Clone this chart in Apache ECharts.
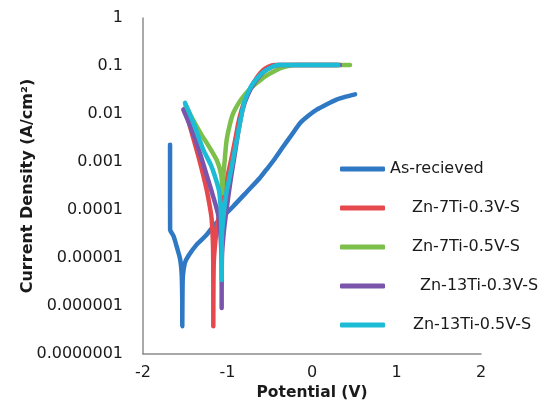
<!DOCTYPE html>
<html>
<head>
<meta charset="utf-8">
<title>Polarization curves</title>
<script src="https://cdn.jsdelivr.net/npm/echarts@6/dist/echarts.min.js"></script>
<style>
  html, body { margin: 0; padding: 0; background: #ffffff; }
  #chart { width: 548px; height: 409px; }
</style>
</head>
<body>
<div id="chart"></div>
<script>
// Potential (V) vs current density (A/cm²), one [x, y] pair per point
const asReceived = [
  [-1.680, 2.3e-3], [-1.680, 3.2e-4], [-1.679, 3.9e-5], [-1.640, 2.9e-5],
  [-1.600, 1.7e-5], [-1.560, 9.3e-6], [-1.542, 4.5e-6], [-1.536, 1.5e-6],
  [-1.535, 3.8e-7], [-1.533, 1.5e-6], [-1.528, 4.2e-6], [-1.505, 7.8e-6],
  [-1.464, 1.1e-5], [-1.365, 1.9e-5], [-1.250, 3.0e-5], [-1.168, 4.6e-5],
  [-1.050, 7.4e-5], [-0.931, 1.2e-4], [-0.770, 2.4e-4], [-0.615, 4.7e-4],
  [-0.540, 6.9e-4], [-0.440, 1.17e-3], [-0.340, 2.1e-3], [-0.240, 3.7e-3],
  [-0.140, 6.5e-3], [-0.040, 9.3e-3], [0.056, 1.23e-2], [0.170, 1.58e-2],
  [0.290, 2.0e-2], [0.400, 2.3e-2], [0.510, 2.57e-2]
];
const zn7Ti03 = [
  [-1.503, 1.32e-2], [-1.430, 4.5e-3], [-1.345, 1.32e-3], [-1.290, 5.6e-4],
  [-1.246, 2.6e-4], [-1.207, 1.12e-4], [-1.187, 6.3e-5], [-1.172, 2.0e-5],
  [-1.168, 3.2e-6], [-1.168, 3.8e-7], [-1.166, 3.2e-6], [-1.160, 1.0e-5],
  [-1.120, 5.0e-5], [-1.060, 1.6e-4], [-1.000, 5.0e-4], [-0.950, 1.26e-3],
  [-0.900, 3.5e-3], [-0.872, 6.5e-3], [-0.830, 1.26e-2], [-0.790, 2.0e-2],
  [-0.695, 4.4e-2], [-0.576, 8.3e-2], [-0.450, 0.105], [0.300, 0.105]
];
const zn7Ti05 = [
  [-1.500, 1.6e-2], [-1.400, 7.1e-3], [-1.300, 3.5e-3], [-1.246, 2.5e-3],
  [-1.180, 1.6e-3], [-1.128, 1.1e-3], [-1.090, 7.1e-4], [-1.069, 4.5e-4],
  [-1.065, 2.2e-4], [-1.050, 5.0e-4], [-1.030, 1.26e-3], [-1.010, 2.9e-3],
  [-0.970, 6.3e-3], [-0.931, 1.05e-2], [-0.870, 1.66e-2], [-0.813, 2.3e-2],
  [-0.735, 3.3e-2], [-0.655, 4.4e-2], [-0.558, 6.0e-2], [-0.458, 7.6e-2],
  [-0.380, 8.9e-2], [-0.300, 9.8e-2], [-0.200, 0.105], [0.450, 0.105]
];
const zn13Ti03 = [
  [-1.523, 1.23e-2], [-1.430, 5.0e-3], [-1.330, 1.6e-3], [-1.250, 5.6e-4],
  [-1.180, 2.2e-4], [-1.110, 7.9e-5], [-1.080, 2.5e-5], [-1.069, 6.3e-6],
  [-1.069, 9.1e-7], [-1.066, 1.0e-5], [-1.040, 4.0e-5], [-0.990, 1.95e-4],
  [-0.950, 5.9e-4], [-0.910, 1.6e-3], [-0.870, 4.5e-3], [-0.820, 1.26e-2],
  [-0.760, 2.5e-2], [-0.680, 4.5e-2], [-0.570, 7.6e-2], [-0.450, 0.1],
  [-0.380, 0.105], [0.330, 0.105]
];
const zn13Ti05 = [
  [-1.503, 1.7e-2], [-1.400, 6.3e-3], [-1.286, 1.8e-3], [-1.200, 8.9e-4],
  [-1.148, 5.0e-4], [-1.100, 2.5e-4], [-1.080, 1.0e-4], [-1.070, 2.5e-5],
  [-1.069, 3.5e-6], [-1.068, 2.5e-5], [-1.040, 1.0e-4], [-1.010, 2.5e-4],
  [-0.990, 3.6e-4], [-0.940, 1.0e-3], [-0.890, 2.9e-3], [-0.860, 5.6e-3],
  [-0.830, 1.05e-2], [-0.800, 1.8e-2], [-0.750, 3.0e-2], [-0.695, 4.4e-2],
  [-0.600, 6.9e-2], [-0.537, 8.3e-2], [-0.450, 0.1], [-0.399, 0.105],
  [0.310, 0.105]
];

const seriesNames = ['As-recieved', 'Zn-7Ti-0.3V-S', 'Zn-7Ti-0.5V-S', 'Zn-13Ti-0.3V-S', 'Zn-13Ti-0.5V-S'];
const seriesData = [asReceived, zn7Ti03, zn7Ti05, zn13Ti03, zn13Ti05];
const seriesColors = ['#2f78c4', '#e5484d', '#7cc04b', '#7a55ab', '#1dbcd6'];

const xTicks = [-2, -1, 0, 1, 2];
const yTickLabels = ['0.0000001', '0.000001', '0.00001', '0.0001', '0.001', '0.01', '0.1', '1'];

// left indent of each legend label
const legendIndent = [0, 22, 22, 30, 23];

const chart = echarts.init(document.getElementById('chart'), null, { renderer: 'canvas' });

const labelFont = 'DejaVu Sans';
const rich = {};
legendIndent.forEach((p, i) => {
  rich['o' + i] = { padding: [0, 0, 0, p], fontFamily: labelFont, fontSize: 16, color: '#1a1a1a' };
});

chart.setOption({
  animation: false,
  backgroundColor: '#ffffff',
  grid: { left: 143, right: 67, top: 18, bottom: 55, containLabel: false },
  xAxis: {
    type: 'value',
    min: xTicks[0],
    max: xTicks[xTicks.length - 1],
    interval: 1,
    name: 'Potential (V)',
    nameLocation: 'middle',
    nameGap: 31,
    nameMoveOverlap: false,
    nameTextStyle: { fontFamily: labelFont, fontWeight: 'bold', fontSize: 15.5, color: '#1a1a1a' },
    axisLine: { show: true, onZero: false, lineStyle: { color: '#8c8c8c', width: 1.5 } },
    axisTick: { show: false },
    splitLine: { show: false },
    axisLabel: { fontFamily: labelFont, fontSize: 16, color: '#1a1a1a', margin: 11 }
  },
  yAxis: {
    type: 'log',
    logBase: 10,
    min: 1e-7,
    max: 1,
    name: 'Current Density (A/cm²)',
    nameLocation: 'middle',
    nameGap: 107,
    nameMoveOverlap: false,
    nameTextStyle: { fontFamily: labelFont, fontWeight: 'bold', fontSize: 16, color: '#1a1a1a' },
    axisLine: { show: true, onZero: false, lineStyle: { color: '#8c8c8c', width: 1.5 } },
    axisTick: { show: false },
    splitLine: { show: false },
    axisLabel: {
      fontFamily: labelFont, fontSize: 16, color: '#1a1a1a', margin: 20,
      formatter: v => yTickLabels[Math.round(Math.log10(v)) + 7]
    }
  },
  legend: {
    orient: 'vertical',
    left: 335,
    top: 154,
    itemWidth: 45,
    itemHeight: 5,
    itemGap: 19,
    icon: 'roundRect',
    textStyle: { fontFamily: labelFont, fontSize: 16, color: '#1a1a1a', lineHeight: 20, rich: rich },
    formatter: name => '{o' + seriesNames.indexOf(name) + '|' + name + '}',
    data: seriesNames
  },
  series: seriesNames.map((name, i) => ({
    name: name,
    type: 'line',
    data: seriesData[i],
    showSymbol: false,
    symbol: 'none',
    smooth: 0.25,
    color: seriesColors[i],
    lineStyle: { width: 4.5, color: seriesColors[i], cap: 'round', join: 'round' },
    z: 2 + i
  }))
});
</script>
</body>
</html>
